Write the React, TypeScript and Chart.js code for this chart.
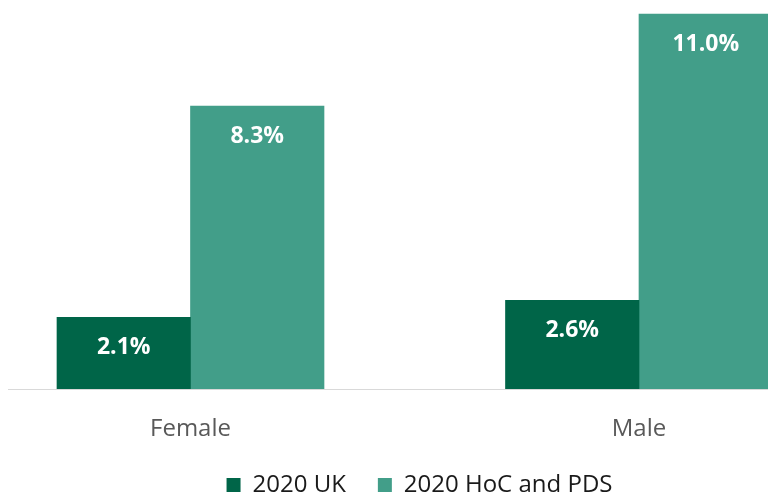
import React, { useEffect, useRef } from "react";
import { Chart, registerables } from "chart.js";

Chart.register(...registerables);

// ---- data ----
const categories = ["Female", "Male"];
const seriesNames = ["2020 UK", "2020 HoC and PDS"];
const ukValues = [2.1, 2.6];
const hocValues = [8.3, 11.0];
const seriesColors = ["#006548", "#429E89"];

const CANVAS_W = 831;
const CANVAS_H = 496;
const FONT = "'Open Sans', 'Noto Sans', sans-serif";

const valueLabelPlugin = {
  id: "valueLabels",
  afterDatasetsDraw(chart: any) {
    const ctx = chart.ctx;
    ctx.save();
    ctx.font = `bold 23px ${FONT}`;
    ctx.fillStyle = "#ffffff";
    ctx.textAlign = "center";
    ctx.textBaseline = "middle";
    chart.data.datasets.forEach((ds: any, di: number) => {
      const meta = chart.getDatasetMeta(di);
      meta.data.forEach((bar: any, i: number) => {
        const v = ds.data[i].y as number;
        ctx.fillText(v.toFixed(1) + "%", bar.x, bar.y + 30);
      });
    });
    ctx.restore();
  },
};

export default function App() {
  const ref = useRef<HTMLCanvasElement | null>(null);

  useEffect(() => {
    if (!ref.current) return;
    const series = [ukValues, hocValues];
    const chart = new Chart(ref.current, {
      type: "bar",
      data: {
        datasets: series.map((vals, si) => ({
          label: seriesNames[si],
          data: categories.map((_, i) => ({ x: i, y: vals[i] })),
          backgroundColor: seriesColors[si],
          borderWidth: 0,
          barThickness: 133.5,
        })),
      },
      options: {
        responsive: false,
        animation: false,
        devicePixelRatio: 1,
        layout: { padding: { left: 8, right: 0, top: 0, bottom: -11 } },
        scales: {
          x: {
            type: "linear",
            min: -0.4069,
            max: 1.4281,
            offset: false,
            grid: { display: false, drawTicks: false, offset: false },
            border: { display: true, color: "#d9d9d9", width: 1 },
            afterBuildTicks: (s: any) => {
              s.ticks = categories.map((_, i) => ({ value: i }));
            },
            afterFit: (s: any) => {
              s.height = 52;
            },
            ticks: {
              autoSkip: false,
              maxRotation: 0,
              padding: 26,
              color: "#595959",
              font: { family: FONT, size: 24 },
              callback: (v: any) => categories[v as number] ?? "",
            },
          },
          y: { display: false, min: 0, max: 11.41 },
        },
        plugins: {
          legend: {
            position: "bottom",
            labels: {
              boxWidth: 14,
              boxHeight: 14,
              padding: 32,
              color: "#1a1a1a",
              font: { family: FONT, size: 24 },
            },
          },
          tooltip: { enabled: false },
        },
      } as any,
      plugins: [valueLabelPlugin],
    });
    return () => chart.destroy();
  }, []);

  return (
    <div
      style={{
        position: "fixed",
        left: 0,
        top: 0,
        width: 768,
        height: 496,
        overflow: "hidden",
        background: "#ffffff",
      }}
    >
      <canvas
        ref={ref}
        width={CANVAS_W}
        height={CANVAS_H}
        style={{ width: CANVAS_W, height: CANVAS_H, display: "block" }}
      />
    </div>
  );
}
